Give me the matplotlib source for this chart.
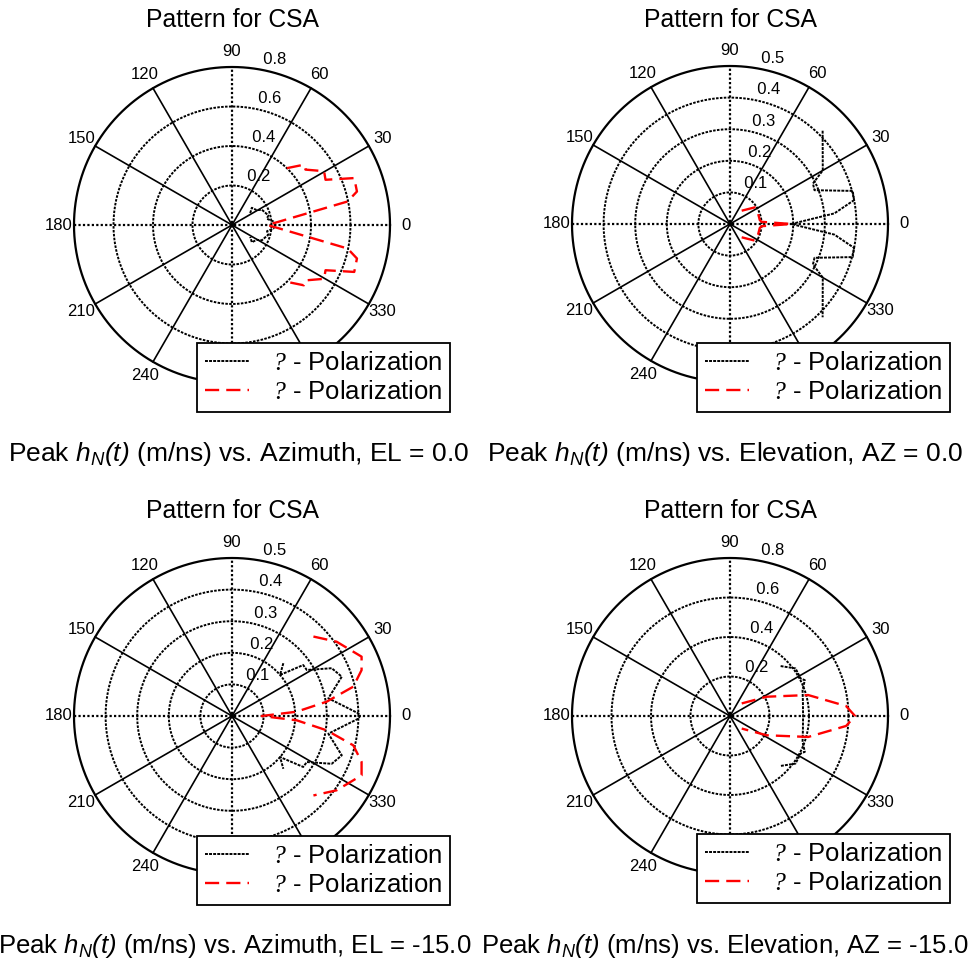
import numpy as np
import matplotlib
matplotlib.use("Agg")
import matplotlib.pyplot as plt
from matplotlib.font_manager import FontProperties

plt.rcParams["font.family"] = ["Liberation Sans", "DejaVu Sans"]
plt.rcParams["mathtext.fontset"] = "custom"
plt.rcParams["mathtext.rm"] = "Liberation Sans:italic"
plt.rcParams["mathtext.it"] = "Liberation Sans:italic"
plt.rcParams["mathtext.sf"] = "Liberation Serif:italic"

# --- data (angle in degrees, peak value in m/ns) ---
az0_black_deg = [33, 41, 31, 27, 15, 10, 5, 0, -5, -10, -15, -27, -31, -41, -33]
az0_black_r = [0.11, 0.133, 0.146, 0.17, 0.19, 0.18, 0.21, 0.22, 0.21, 0.18, 0.19, 0.17, 0.146, 0.133, 0.11]
az0_red_deg = [46, 40, 37, 30.3, 25.8, 21, 15, 11.5, 0, -11.5, -15, -21, -25.8, -30.3, -37, -40, -46]
az0_red_r = [0.40, 0.475, 0.466, 0.54, 0.526, 0.663, 0.655, 0.597, 0.18, 0.597, 0.655, 0.663, 0.526, 0.54, 0.466, 0.475, 0.40]

el0_black_deg = [45.2, 30, 26, 21.8, 15.1, 10.9, 5.8, 0, -5.8, -10.9, -15.1, -21.8, -26, -30, -45.2]
el0_black_r = [0.416, 0.339, 0.292, 0.288, 0.402, 0.40, 0.332, 0.194, 0.332, 0.40, 0.402, 0.288, 0.292, 0.339, 0.416]
el0_red_deg = [48.7, 33.7, 20.7, 7.6, 4, 0, -4, -7.6, -20.7, -33.7, -48.7]
el0_red_r = [0.056, 0.095, 0.095, 0.095, 0.10, 0.194, 0.10, 0.095, 0.095, 0.095, 0.056]

az15_black_deg = [45.8, 40.5, 35.6, 31.6, 25.6, 19.7, 10.4, 1.2, 0, -1.2, -10.4, -19.7, -25.6, -31.6, -35.6, -40.5, -45.8]
az15_black_r = [0.233, 0.20, 0.277, 0.278, 0.35, 0.369, 0.31, 0.40, 0.405, 0.40, 0.31, 0.369, 0.35, 0.278, 0.277, 0.20, 0.233]
az15_red_deg = [44.3, 35.4, 24.6, 19.5, 13.6, 8.6, 3.8, 0, -3.8, -8.6, -13.6, -19.5, -24.6, -35.4, -44.3]
az15_red_r = [0.36, 0.406, 0.451, 0.435, 0.395, 0.303, 0.205, 0.094, 0.205, 0.303, 0.395, 0.435, 0.451, 0.406, 0.36]

el15_black_deg = [44.6, 36, 28, 25.6, 19.6, 10, 0, -10, -19.6, -25.6, -28, -36, -44.6]
el15_black_r = [0.36, 0.41, 0.405, 0.42, 0.39, 0.375, 0.37, 0.375, 0.39, 0.42, 0.405, 0.41, 0.36]
el15_red_deg = [47, 27.7, 15, 4.9, 0, -4.9, -15, -27.7, -47]
el15_red_r = [0.087, 0.21, 0.41, 0.59, 0.633, 0.59, 0.41, 0.21, 0.087]

rmax_list = [0.8, 0.5, 0.5, 0.8]
ring_step = [0.2, 0.1, 0.1, 0.2]
xlabels = [
    r"Peak $h_N(t)$ (m/ns) vs. Azimuth, EL = 0.0",
    r"Peak $h_N(t)$ (m/ns) vs. Elevation, AZ = 0.0",
    r"Peak $h_N(t)$ (m/ns) vs. Azimuth, EL = -15.0",
    r"Peak $h_N(t)$ (m/ns) vs. Elevation, AZ = -15.0",
]
legend_labels = [r"$\mathsf{?}$ - Polarization", r"$\mathsf{?}$ - Polarization"]

W, H = 969, 964
fig = plt.figure(figsize=(W / 100, H / 100), dpi=100)

centers = [(232, 225), (730, 224), (232, 716), (730, 716)]
xlab_x = [239, 725, 235, 725]
xlab_y = [461, 461, 953, 953]
xlab_size = [19, 19, 18.5, 18.5]
title_y = [27, 27, 518, 518]
leg_corner = [(450, 412), (950, 412), (450, 905), (950, 903)]
RPX = 158  # outer ring radius in pixels
HALF = 215

series = [
    (az0_black_deg, az0_black_r, az0_red_deg, az0_red_r),
    (el0_black_deg, el0_black_r, el0_red_deg, el0_red_r),
    (az15_black_deg, az15_black_r, az15_red_deg, az15_red_r),
    (el15_black_deg, el15_black_r, el15_red_deg, el15_red_r),
]


def polar_grid(ax, rmax, step):
    t = np.linspace(0, 2 * np.pi, 361)
    nring = int(round(rmax / step))
    for i in range(1, nring):
        r = i * step
        ax.plot(r * np.cos(t), r * np.sin(t), color="k", lw=1.4, ls=(0, (1.3, 0.7)))
    ax.plot(rmax * np.cos(t), rmax * np.sin(t), color="k", lw=1.6)
    for a in [30, 60, 120, 150]:
        c, s = np.cos(np.radians(a)), np.sin(np.radians(a))
        ax.plot([-rmax * c, rmax * c], [-rmax * s, rmax * s], color="k", lw=1.2)
    ax.plot([-rmax, rmax], [0, 0], color="k", lw=1.6, ls=(0, (1, 1)))
    ax.plot([0, 0], [-rmax, rmax], color="k", lw=1.6, ls=(0, (1, 1)))
    for a in range(0, 360, 30):
        ax.text(1.1 * rmax * np.cos(np.radians(a)), 1.1 * rmax * np.sin(np.radians(a)),
                str(a), ha="center", va="center", fontsize=12)
    c82, s82 = np.cos(np.radians(82)), np.sin(np.radians(82))
    for i in range(1, nring + 1):
        r = i * step
        ax.text((r + step / 20) * c82, (r + step / 20) * s82, "  %g" % r,
                ha="left", va="bottom", fontsize=12)


leg_prop = FontProperties(family="Liberation Sans", size=18.5, math_fontfamily="custom")

for k in range(4):
    cx, cy = centers[k]
    rmax = rmax_list[k]
    lim = HALF * rmax / RPX
    ax = fig.add_axes([(cx - HALF) / W, 1 - (cy + HALF) / H, 2 * HALF / W, 2 * HALF / H])
    ax.set_xlim(-lim, lim)
    ax.set_ylim(-lim, lim)
    ax.axis("off")
    polar_grid(ax, rmax, ring_step[k])

    bd, br, rd, rr = series[k]
    bt = np.radians(bd)
    rt = np.radians(rd)
    l1, = ax.plot(np.array(br) * np.cos(bt), np.array(br) * np.sin(bt),
                  color="k", lw=1.4, ls=(0, (1.5, 0.6)))
    l2, = ax.plot(np.array(rr) * np.cos(rt), np.array(rr) * np.sin(rt),
                  color="red", lw=1.7, ls=(0, (6, 3)))

    lx, ly = leg_corner[k]
    leg = ax.legend([l1, l2], legend_labels, loc="lower right",
                    bbox_to_anchor=(lx / W, 1 - ly / H), bbox_transform=fig.transFigure,
                    prop=leg_prop, fancybox=False, framealpha=1, edgecolor="k",
                    borderpad=0.3, labelspacing=0.22, handlelength=1.7, handletextpad=0.9,
                    borderaxespad=0)
    leg.get_frame().set_linewidth(1.3)
    leg.set_zorder(10)

    fig.text(cx / W, 1 - title_y[k] / H, "Pattern for CSA", ha="center", va="baseline", fontsize=17.8)
    xl_prop = FontProperties(family="Liberation Sans", size=xlab_size[k], math_fontfamily="custom")
    fig.text(xlab_x[k] / W, 1 - xlab_y[k] / H, xlabels[k], ha="center", va="baseline",
             fontproperties=xl_prop)

fig.savefig("out.png", dpi=100)
